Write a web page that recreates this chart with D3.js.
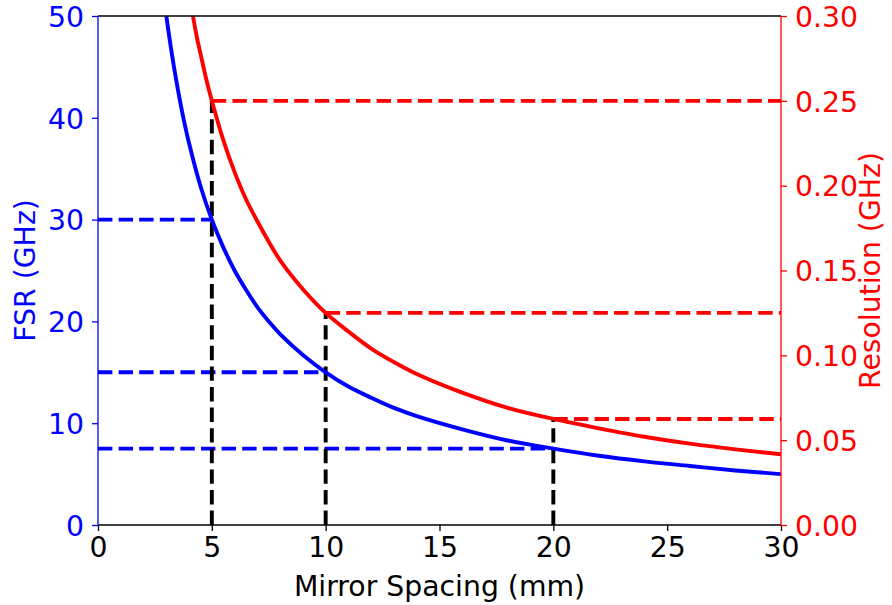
<!DOCTYPE html>
<html>
<head>
<meta charset="utf-8">
<script src="https://cdn.jsdelivr.net/npm/d3@7"></script>
<style>
  html, body { margin: 0; padding: 0; background: #fff; }
  svg { display: block; }
  text { font-family: "DejaVu Sans", sans-serif; }
</style>
</head>
<body>
<svg id="chart" width="892" height="605"></svg>
<script>
// Mirror spacing (mm) and free spectral range (GHz) along the blue curve
const fsrSpacing = [3, 3.25, 3.5, 3.75, 4, 4.5, 5, 5.5, 6, 6.5, 7, 7.5, 8, 9, 10, 11, 12, 13, 14, 16, 18, 20, 22, 24, 26, 28, 30];
const fsrValues  = [50, 46.2, 42.9, 40, 37.5, 33.3, 30, 27.3, 25, 23.1, 21.4, 20, 18.75, 16.7, 15, 13.6, 12.5, 11.5, 10.7, 9.4, 8.3, 7.5, 6.8, 6.25, 5.8, 5.36, 5];

// Mirror spacing (mm) and resolution (GHz) along the red curve
const resSpacing = [4.17, 4.35, 4.5, 4.75, 5, 5.5, 6, 6.5, 7, 7.5, 8, 9, 10, 11, 12, 13, 14, 16, 18, 20, 22, 24, 26, 28, 30];
const resValues  = [0.30, 0.287, 0.278, 0.263, 0.25, 0.227, 0.208, 0.192, 0.179, 0.167, 0.156, 0.139, 0.125, 0.114, 0.104, 0.096, 0.089, 0.078, 0.069, 0.0625, 0.057, 0.052, 0.048, 0.0446, 0.0417];

// Marked operating points: spacing, FSR, resolution
const markSpacing = [5, 10, 20];
const markFsr     = [30, 15, 7.5];
const markRes     = [0.25, 0.125, 0.0625];

// Tick labels
const xTicks     = [0, 5, 10, 15, 20, 25, 30];
const fsrTicks   = [0, 10, 20, 30, 40, 50];
const resTicks   = [0, 0.05, 0.10, 0.15, 0.20, 0.25, 0.30];

const svg = d3.select("#chart");
const m = { left: 98, right: 781, top: 16, bottom: 525 };
const FS = 28.3;
const BLUE = "#0000ff", RED = "#ff0000";
const LW = 3.9;
const dash = "14.4,6.2";

const x = d3.scaleLinear().domain([0, 30]).range([m.left, m.right]);
const yL = d3.scaleLinear().domain([0, 50]).range([m.bottom, m.top]);
const yR = d3.scaleLinear().domain([0, 0.30]).range([m.bottom, m.top]);

svg.append("defs").append("clipPath").attr("id", "plot")
  .append("rect").attr("x", m.left).attr("y", m.top)
  .attr("width", m.right - m.left).attr("height", m.bottom - m.top);

const plot = svg.append("g").attr("clip-path", "url(#plot)");

// Horizontal guides to the FSR axis
markSpacing.forEach((s, i) => {
  plot.append("line")
    .attr("x1", x(0)).attr("x2", x(s))
    .attr("y1", yL(markFsr[i])).attr("y2", yL(markFsr[i]))
    .attr("stroke", BLUE).attr("stroke-width", LW).attr("stroke-dasharray", dash);
});
// Horizontal guides to the resolution axis
markSpacing.forEach((s, i) => {
  plot.append("line")
    .attr("x1", x(s)).attr("x2", x(30))
    .attr("y1", yR(markRes[i])).attr("y2", yR(markRes[i]))
    .attr("stroke", RED).attr("stroke-width", LW).attr("stroke-dasharray", dash);
});
// Vertical guides from the spacing axis
markSpacing.forEach((s, i) => {
  plot.append("line")
    .attr("x1", x(s)).attr("x2", x(s))
    .attr("y1", yL(0)).attr("y2", yR(markRes[i]))
    .attr("stroke", "#000").attr("stroke-width", LW).attr("stroke-dasharray", dash);
});

// Curves
const smooth = d3.curveCatmullRom.alpha(0.5);
const fsrLine = d3.line().x(d => x(d[0])).y(d => yL(d[1])).curve(smooth);
const resLine = d3.line().x(d => x(d[0])).y(d => yR(d[1])).curve(smooth);

plot.append("path").datum(fsrSpacing.map((s, i) => [s, fsrValues[i]]))
  .attr("d", fsrLine).attr("fill", "none").attr("stroke", BLUE).attr("stroke-width", LW);
plot.append("path").datum(resSpacing.map((s, i) => [s, resValues[i]]))
  .attr("d", resLine).attr("fill", "none").attr("stroke", RED).attr("stroke-width", LW);

// Axes
function styleAxis(g, color) {
  g.selectAll(".domain").remove();
  g.selectAll(".tick line").attr("stroke", color).attr("stroke-width", 1.3);
  g.selectAll(".tick text").attr("fill", color).attr("font-size", FS)
    .attr("font-family", "DejaVu Sans, sans-serif");
}

const gx = svg.append("g").attr("transform", `translate(0,${m.bottom})`)
  .call(d3.axisBottom(x).tickValues(xTicks).tickFormat(d3.format("d")).tickSize(6).tickPadding(6));
styleAxis(gx, "#000");

const gl = svg.append("g").attr("transform", `translate(${m.left},0)`)
  .call(d3.axisLeft(yL).tickValues(fsrTicks).tickFormat(d3.format("d")).tickSize(6).tickPadding(8));
styleAxis(gl, BLUE);
gl.selectAll(".tick text").attr("dy", "0.36em");

const gr = svg.append("g").attr("transform", `translate(${m.right},0)`)
  .call(d3.axisRight(yR).tickValues(resTicks).tickFormat(d3.format(".2f")).tickSize(6).tickPadding(8));
styleAxis(gr, RED);
gr.selectAll(".tick text").attr("dy", "0.36em");

// Spines
svg.append("line").attr("x1", m.left).attr("x2", m.right).attr("y1", m.top).attr("y2", m.top)
  .attr("stroke", "#000").attr("stroke-width", 1.3);
svg.append("line").attr("x1", m.left).attr("x2", m.right).attr("y1", m.bottom).attr("y2", m.bottom)
  .attr("stroke", "#000").attr("stroke-width", 1.3);
svg.append("line").attr("x1", m.left).attr("x2", m.left).attr("y1", m.top).attr("y2", m.bottom)
  .attr("stroke", BLUE).attr("stroke-width", 1.3);
svg.append("line").attr("x1", m.right).attr("x2", m.right).attr("y1", m.top).attr("y2", m.bottom)
  .attr("stroke", RED).attr("stroke-width", 1.3);

// Axis titles
svg.append("text").attr("x", (m.left + m.right) / 2).attr("y", 596)
  .attr("text-anchor", "middle").attr("font-size", FS).attr("fill", "#000")
  .text("Mirror Spacing (mm)");
svg.append("text").attr("transform", `translate(35,${(m.top + m.bottom) / 2}) rotate(-90)`)
  .attr("text-anchor", "middle").attr("font-size", FS).attr("fill", BLUE)
  .text("FSR (GHz)");
svg.append("text").attr("transform", `translate(880,${(m.top + m.bottom) / 2}) rotate(-90)`)
  .attr("text-anchor", "middle").attr("font-size", FS).attr("fill", RED)
  .text("Resolution (GHz)");
</script>
</body>
</html>
